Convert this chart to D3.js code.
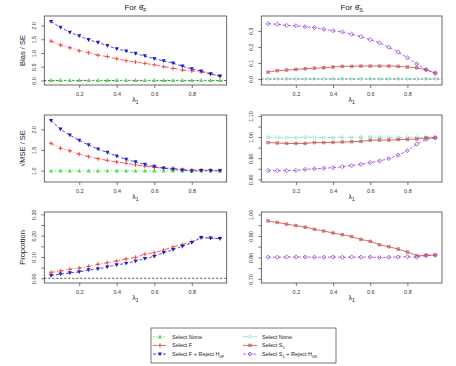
<!DOCTYPE html>
<html>
<head>
<meta charset="utf-8">
<script src="https://d3js.org/d3.v7.min.js"></script>
<style>
 body { margin: 0; background: #fff; }
 text { font-family: "Liberation Sans", Arial, sans-serif; }
</style>
</head>
<body>
<div id="chart"></div>
<script>
// lambda_1 grid
var lambda = [0.05,0.10,0.15,0.20,0.25,0.30,0.35,0.40,0.45,0.50,0.55,0.60,0.65,0.70,0.75,0.80,0.85,0.90,0.95];
var xTicks = [0.2, 0.4, 0.6, 0.8];

// For theta_F : Bias / SE
var biasNoneF   = [0.01,0.01,0.01,0.01,0.01,0.01,0.01,0.01,0.01,0.01,0.01,0.01,0.01,0.01,0.01,0.01,0.01,0.01,0.01];
var biasSelF    = [1.43,1.29,1.19,1.08,1.01,0.92,0.87,0.79,0.72,0.67,0.62,0.57,0.50,0.44,0.38,0.35,0.31,0.24,0.16];
var biasRejF    = [2.14,1.93,1.75,1.62,1.48,1.38,1.27,1.15,1.07,0.98,0.89,0.79,0.71,0.63,0.52,0.42,0.34,0.24,0.16];
// For theta_S : Bias / SE
var biasNoneS   = [0.001,0.001,0.001,0.001,0.001,0.001,0.001,0.001,0.001,0.001,0.001,0.001,0.001,0.001,0.001,0.001,0.001,0.001,0.001];
var biasSelS    = [0.043,0.052,0.056,0.060,0.064,0.068,0.070,0.075,0.079,0.079,0.081,0.081,0.081,0.081,0.079,0.075,0.070,0.058,0.037];
var biasRejS    = [0.346,0.342,0.335,0.333,0.327,0.321,0.311,0.302,0.294,0.280,0.265,0.246,0.226,0.199,0.168,0.133,0.095,0.058,0.037];

// sqrt(MSE) / SE
var rmseNoneF   = [1.00,1.00,1.00,1.00,1.00,1.00,1.00,1.00,1.00,1.00,1.00,1.00,1.00,1.00,1.00,1.00,1.00,1.00,1.00];
var rmseSelF    = [1.66,1.54,1.48,1.40,1.34,1.29,1.25,1.21,1.18,1.14,1.11,1.08,1.06,1.06,1.03,1.02,1.02,1.01,1.00];
var rmseRejF    = [2.21,2.00,1.86,1.73,1.62,1.52,1.44,1.35,1.27,1.21,1.15,1.10,1.06,1.03,1.01,0.99,1.00,1.00,1.00];
var rmseNoneS   = [0.999,0.999,0.998,0.998,0.999,0.999,0.998,0.998,0.999,0.999,0.999,1.000,0.999,0.999,0.998,0.999,0.999,0.999,0.999];
var rmseSelS    = [0.974,0.972,0.970,0.970,0.970,0.974,0.974,0.975,0.977,0.978,0.980,0.985,0.986,0.986,0.988,0.989,0.991,0.996,0.997];
var rmseRejS    = [0.841,0.841,0.841,0.842,0.847,0.850,0.852,0.855,0.860,0.865,0.871,0.879,0.887,0.898,0.914,0.936,0.967,0.989,0.997];

// Proportion
var propSelF    = [0.028,0.034,0.042,0.048,0.056,0.066,0.073,0.081,0.091,0.098,0.113,0.120,0.133,0.147,0.158,0.172,0.192,0.189,0.188];
var propRejF    = [0.013,0.019,0.025,0.030,0.039,0.044,0.053,0.063,0.070,0.080,0.092,0.103,0.120,0.134,0.150,0.167,0.191,0.188,0.186];
var propSelS    = [0.970,0.963,0.955,0.948,0.941,0.931,0.923,0.914,0.906,0.897,0.884,0.875,0.859,0.850,0.839,0.825,0.808,0.811,0.811];
var propRejS    = [0.801,0.801,0.802,0.802,0.802,0.801,0.801,0.802,0.801,0.802,0.801,0.802,0.799,0.801,0.802,0.803,0.801,0.808,0.811];

var W = 456, H = 366;
var svg = d3.select("#chart").append("svg").attr("width", W).attr("height", H);
svg.append("rect").attr("width", W).attr("height", H).attr("fill", "#fff");

// series styles
var sty = {
  noneF: {col: "#55dd55", dash: "1.5,2", sym: "triUp"},
  selF:  {col: "#f03c3c", dash: "4,2,1,2", sym: "plus"},
  rejF:  {col: "#2020c8", dash: "3,2", sym: "triDown"},
  noneS: {col: "#7fdcc4", dash: "5,2,1,2", sym: "circle"},
  selS:  {col: "#c84a4a", dash: null, sym: "boxX"},
  rejS:  {col: "#9a42d2", dash: "3,2", sym: "diamond"}
};

function drawSym(g, type, x, y, col) {
  var r = 2.1;
  if (type === "triUp") {
    g.append("path").attr("d", "M" + x + "," + (y - r) + "L" + (x + r) + "," + (y + r * 0.8) + "L" + (x - r) + "," + (y + r * 0.8) + "Z").attr("fill", col);
  } else if (type === "triDown") {
    g.append("path").attr("d", "M" + x + "," + (y + r) + "L" + (x + r) + "," + (y - r * 0.8) + "L" + (x - r) + "," + (y - r * 0.8) + "Z").attr("fill", col);
  } else if (type === "plus") {
    g.append("path").attr("d", "M" + (x - r) + "," + y + "H" + (x + r) + "M" + x + "," + (y - r) + "V" + (y + r)).attr("stroke", col).attr("stroke-width", 0.9);
  } else if (type === "circle") {
    g.append("circle").attr("cx", x).attr("cy", y).attr("r", 1.5).attr("fill", "none").attr("stroke", col).attr("stroke-width", 0.7);
  } else if (type === "boxX") {
    var s = 1.3;
    g.append("path").attr("d", "M" + (x - s) + "," + (y - s) + "h" + 2 * s + "v" + 2 * s + "h" + (-2 * s) + "Z" +
      "M" + (x - s) + "," + (y - s) + "L" + (x + s) + "," + (y + s) + "M" + (x + s) + "," + (y - s) + "L" + (x - s) + "," + (y + s))
      .attr("stroke", col).attr("stroke-width", 0.6).attr("fill", "none");
  } else if (type === "diamond") {
    g.append("path").attr("d", "M" + x + "," + (y - r) + "L" + (x + r) + "," + y + "L" + x + "," + (y + r) + "L" + (x - r) + "," + y + "Z")
      .attr("stroke", col).attr("stroke-width", 0.8).attr("fill", "none");
  }
}

function panel(o) {
  var g = svg.append("g");
  var x = d3.scaleLinear().domain([0.014, 0.986]).range([o.x0, o.x1]);
  var y = d3.scaleLinear().domain(o.ydom).range([o.y1, o.y0]);

  // box
  g.append("rect").attr("x", o.x0).attr("y", o.y0).attr("width", o.x1 - o.x0).attr("height", o.y1 - o.y0)
   .attr("fill", "none").attr("stroke", "#444").attr("stroke-width", 0.8);

  if (o.zero) {
    g.append("line").attr("x1", o.x0).attr("x2", o.x1).attr("y1", y(0)).attr("y2", y(0))
     .attr("stroke", "#222").attr("stroke-width", 0.8).attr("stroke-dasharray", "2,2");
  }

  // axes
  var xa = g.append("g").attr("transform", "translate(0," + o.y1 + ")")
    .call(d3.axisBottom(x).tickValues(xTicks).tickSize(3).tickPadding(4).tickFormat(d3.format(".1f")));
  var ya = g.append("g").attr("transform", "translate(" + o.x0 + ",0)")
    .call(d3.axisLeft(y).tickValues(o.yticks).tickSize(3).tickFormat(function(d, i) { return o.ylabs[i]; }));
  [xa, ya].forEach(function(a) {
    a.select(".domain").remove();
    a.selectAll("line").attr("stroke", "#444").attr("stroke-width", 0.7);
    a.selectAll("text").attr("fill", "#333").style("font-size", "5.5px").style("font-family", "Liberation Sans, Arial, sans-serif");
  });
  ya.selectAll("text").attr("x", null).attr("dy", null)
    .attr("text-anchor", "middle")
    .attr("transform", function() { return "translate(-8,0) rotate(-90)"; })
    .attr("y", 0);

  // x title
  var xt = g.append("text").attr("x", (o.x0 + o.x1) / 2).attr("y", o.y1 + 17).attr("text-anchor", "middle")
    .attr("fill", "#222").style("font-size", "7px").text("λ");
  xt.append("tspan").attr("dy", 2).style("font-size", "5px").text("1");

  if (o.ytitle) {
    g.append("text").attr("transform", "translate(" + (o.x0 - 19) + "," + ((o.y0 + o.y1) / 2) + ") rotate(-90)")
     .attr("text-anchor", "middle").attr("fill", "#222").style("font-size", "7.5px").text(o.ytitle);
  }
  if (o.title) {
    var tt = g.append("text").attr("x", (o.x0 + o.x1) / 2).attr("y", 10).attr("text-anchor", "middle")
      .attr("fill", "#222").style("font-size", "8px").text("For θ̂");
    tt.append("tspan").attr("dy", 2).style("font-size", "5.5px").text(o.title);
  }

  o.series.forEach(function(s) {
    var st = sty[s.key];
    var line = d3.line().x(function(d, i) { return x(lambda[i]); }).y(function(d) { return y(d); });
    g.append("path").datum(s.v).attr("d", line).attr("fill", "none").attr("stroke", st.col)
     .attr("stroke-width", 0.8).attr("stroke-dasharray", st.dash);
    s.v.forEach(function(d, i) { drawSym(g, st.sym, x(lambda[i]), y(d), st.col); });
  });
}

var L = {x0: 44.3, x1: 226.7}, R = {x0: 261.3, x1: 442};

panel({x0: L.x0, x1: L.x1, y0: 16, y1: 85, ydom: [-0.164, 2.345], yticks: [0, 0.5, 1, 1.5, 2], ylabs: ["0.0","0.5","1.0","1.5","2.0"],
  ytitle: "Bias / SE", title: "F", zero: true,
  series: [{key: "noneF", v: biasNoneF}, {key: "selF", v: biasSelF}, {key: "rejF", v: biasRejF}]});
panel({x0: R.x0, x1: R.x1, y0: 16, y1: 85, ydom: [-0.0375, 0.394], yticks: [0, 0.1, 0.2, 0.3], ylabs: ["0.0","0.1","0.2","0.3"],
  title: "S", zero: true,
  series: [{key: "noneS", v: biasNoneS}, {key: "selS", v: biasSelS}, {key: "rejS", v: biasRejS}]});

panel({x0: L.x0, x1: L.x1, y0: 115, y1: 182, ydom: [0.727, 2.345], yticks: [1, 1.5, 2], ylabs: ["1.0","1.5","2.0"],
  ytitle: "√MSE / SE",
  series: [{key: "noneF", v: rmseNoneF}, {key: "selF", v: rmseSelF}, {key: "rejF", v: rmseRejF}]});
panel({x0: R.x0, x1: R.x1, y0: 115, y1: 182, ydom: [0.7872, 1.1047], yticks: [0.8, 0.85, 0.9, 0.95, 1.0, 1.05, 1.1],
  ylabs: ["0.80","","0.90","","1.00","","1.10"],
  series: [{key: "noneS", v: rmseNoneS}, {key: "selS", v: rmseSelS}, {key: "rejS", v: rmseRejS}]});

panel({x0: L.x0, x1: L.x1, y0: 212, y1: 283, ydom: [-0.022, 0.311], yticks: [0, 0.05, 0.1, 0.15, 0.2, 0.25, 0.3],
  ylabs: ["0.00","","0.10","","0.20","","0.30"], ytitle: "Proportion", zero: true,
  series: [{key: "selF", v: propSelF}, {key: "rejF", v: propRejF}]});
panel({x0: R.x0, x1: R.x1, y0: 212, y1: 283, ydom: [0.681, 1.0116], yticks: [0.7, 0.75, 0.8, 0.85, 0.9, 0.95, 1.0],
  ylabs: ["0.70","","0.80","","0.90","","1.00"],
  series: [{key: "selS", v: propSelS}, {key: "rejS", v: propRejS}]});

// legend
var leg = [
  {key: "noneF", lab: ["Select None"]},
  {key: "selF", lab: ["Select F"]},
  {key: "rejF", lab: ["Select F + Reject H", "0F"]},
  {key: "noneS", lab: ["Select None"]},
  {key: "selS", lab: ["Select S", "1"]},
  {key: "rejS", lab: ["Select S", "1", " + Reject H", "0S"]}
];
var lg = svg.append("g");
lg.append("rect").attr("x", 151).attr("y", 328).attr("width", 185).attr("height", 35)
  .attr("fill", "#fff").attr("stroke", "#555").attr("stroke-width", 0.8);
leg.forEach(function(d, i) {
  var col = Math.floor(i / 3), row = i % 3;
  var lx = 153 + col * 90, ly = 336.7 + row * 8.7;
  var st = sty[d.key];
  lg.append("line").attr("x1", lx).attr("x2", lx + 14).attr("y1", ly).attr("y2", ly)
    .attr("stroke", st.col).attr("stroke-width", 0.8).attr("stroke-dasharray", st.dash);
  drawSym(lg, st.sym, lx + 7, ly, st.col);
  var t = lg.append("text").attr("x", lx + 19).attr("y", ly + 2).attr("fill", "#222").style("font-size", "5.5px");
  d.lab.forEach(function(s, j) {
    var sub = j % 2 === 1;
    t.append("tspan").attr("dy", sub ? 1.5 : (j > 0 ? -1.5 : 0)).style("font-size", sub ? "4px" : "5.5px").text(s);
  });
});
</script>
</body>
</html>
